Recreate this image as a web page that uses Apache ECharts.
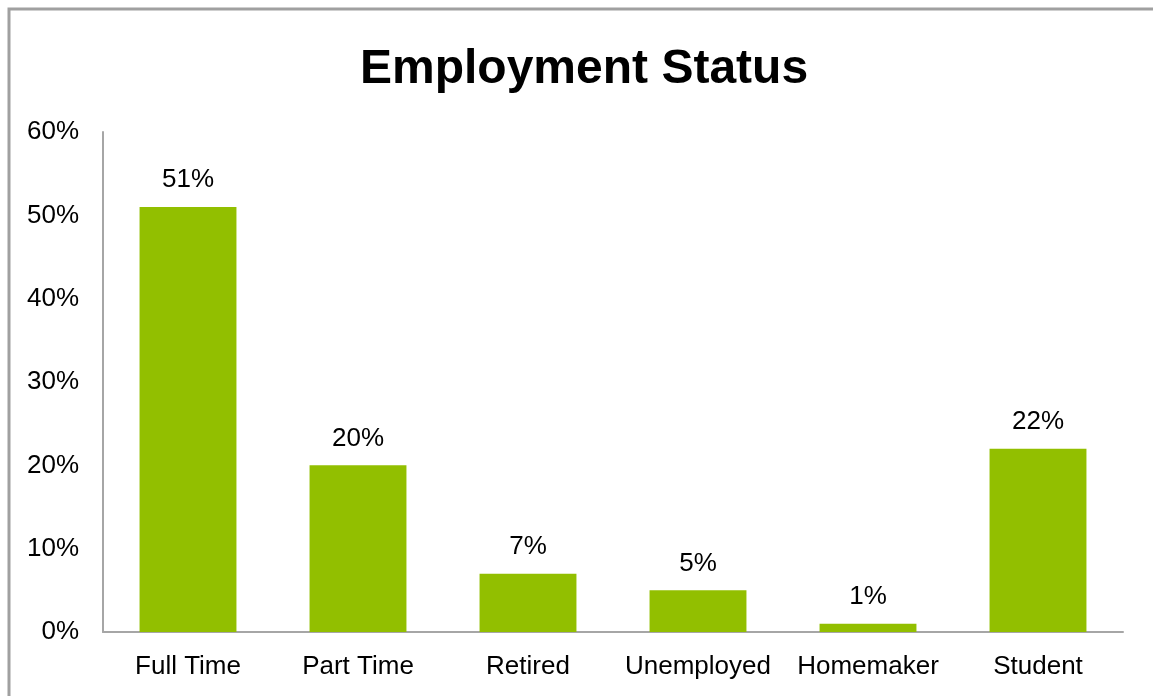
<!DOCTYPE html>
<html>
<head>
<meta charset="utf-8">
<script src="https://cdn.jsdelivr.net/npm/echarts@6/dist/echarts.min.js"></script>
<style>
  html, body { margin: 0; padding: 0; background: #fff; }
  #main { width: 1153px; height: 696px; }
</style>
</head>
<body>
<div id="main"></div>
<script>
var categories = ['Full Time', 'Part Time', 'Retired', 'Unemployed', 'Homemaker', 'Student'];
var shares = [51, 20, 7, 5, 1, 22];
var yTicks = [0, 10, 20, 30, 40, 50, 60];

(function () {
    var myChart = echarts.init(document.getElementById('main'));
    var font = 'Liberation Sans, Arial, sans-serif';

    var option = {
        backgroundColor: '#fff',
        animation: false,
        title: {
            text: 'Employment Status',
            left: 355,
            top: 41,
            textStyle: { fontFamily: font, fontSize: 48, fontWeight: 'bold', color: '#000' }
        },
        graphic: [{
            type: 'rect',
            shape: { x: 9, y: 9, width: 1200, height: 740 },
            style: { fill: 'none', stroke: '#a0a0a0', lineWidth: 3 },
            silent: true
        }],
        grid: { left: 103, right: 30, top: 132, bottom: 64 },
        xAxis: {
            type: 'category',
            data: categories,
            axisLine: { lineStyle: { color: '#a6a6a6', width: 2 } },
            axisTick: { show: false },
            axisLabel: { color: '#000', fontFamily: font, fontSize: 26, margin: 22, interval: 0 }
        },
        yAxis: {
            type: 'value',
            min: yTicks[0],
            max: yTicks[yTicks.length - 1],
            interval: 10,
            axisLine: { show: true, lineStyle: { color: '#a6a6a6', width: 2 } },
            axisTick: { show: false },
            splitLine: { show: false },
            axisLabel: { color: '#000', fontFamily: font, fontSize: 26, margin: 24, formatter: '{value}%' }
        },
        series: [{
            type: 'bar',
            data: shares,
            barCategoryGap: '43%',
            itemStyle: { color: '#92bf00' },
            label: {
                show: true,
                position: 'top',
                distance: 14,
                color: '#000',
                fontFamily: font,
                fontSize: 26,
                formatter: '{c}%'
            }
        }]
    };

    myChart.setOption(option);
})();
</script>
</body>
</html>
